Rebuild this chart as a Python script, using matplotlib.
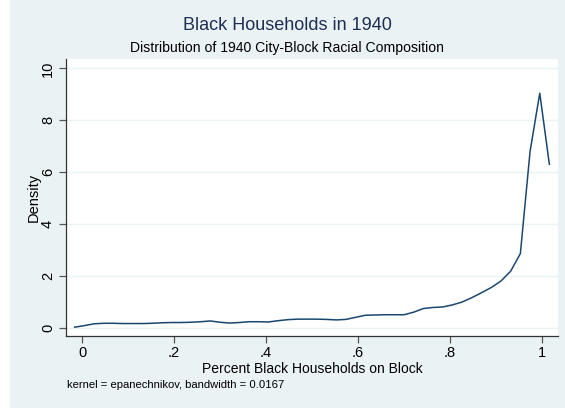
import matplotlib
matplotlib.use("Agg")
import matplotlib.pyplot as plt
from matplotlib.patches import Rectangle

plt.rcParams['font.family'] = ['Liberation Sans', 'DejaVu Sans']

# Kernel density estimate evaluated on 50 grid points
share_black = [
    -0.0167, 0.0044, 0.0255, 0.0466, 0.0677, 0.0888, 0.1098, 0.1309, 0.1520, 0.1731,
    0.1942, 0.2153, 0.2364, 0.2575, 0.2786, 0.2997, 0.3208, 0.3419, 0.3630, 0.3841,
    0.4052, 0.4262, 0.4473, 0.4684, 0.4895, 0.5106, 0.5317, 0.5528, 0.5739, 0.5950,
    0.6161, 0.6372, 0.6583, 0.6794, 0.7005, 0.7216, 0.7426, 0.7637, 0.7848, 0.8059,
    0.8270, 0.8481, 0.8692, 0.8903, 0.9114, 0.9325, 0.9536, 0.9747, 0.9958, 1.0167,
]
density = [
    0.02, 0.08, 0.15, 0.17, 0.17, 0.16, 0.16, 0.16, 0.17, 0.19,
    0.20, 0.20, 0.21, 0.23, 0.26, 0.21, 0.18, 0.20, 0.23, 0.23,
    0.22, 0.27, 0.31, 0.33, 0.33, 0.33, 0.32, 0.30, 0.32, 0.40,
    0.48, 0.49, 0.50, 0.50, 0.50, 0.60, 0.74, 0.78, 0.80, 0.88,
    0.99, 1.16, 1.35, 1.55, 1.80, 2.18, 2.86, 6.80, 9.04, 6.30,
]

x_ticks = [0, 0.2, 0.4, 0.6, 0.8, 1.0]
x_tick_labels = ["0", ".2", ".4", ".6", ".8", "1"]
y_ticks = [0, 2, 4, 6, 8, 10]
y_tick_labels = ["0", "2", "4", "6", "8", "10"]

W, H = 565, 411
fig = plt.figure(figsize=(W / 100, H / 100), dpi=100, facecolor="white")

# Graph region background
fig.patches.append(Rectangle((10 / W, 3 / H), 555 / W, 408 / H,
                             transform=fig.transFigure, facecolor="#EAF2F3",
                             edgecolor="none", zorder=-5))

ax = fig.add_axes([66 / W, 1 - 336 / H, (558 - 66) / W, (336 - 59.5) / H])
ax.set_zorder(2)
ax.set_facecolor("white")
ax.plot(share_black, density, color="#1A476F", lw=1.1, zorder=3)

ax.set_xlim(-0.0355, 1.0355)
ax.set_ylim(-0.32, 10.34)
ax.set_xticks(x_ticks)
ax.set_xticklabels(x_tick_labels)
ax.set_yticks(y_ticks)
ax.set_yticklabels(y_tick_labels, rotation=90, va="center")

for v in y_ticks:
    ax.axhline(v, color="#EAF2F3", lw=1.0, zorder=1)

for s in ["top", "right"]:
    ax.spines[s].set_visible(False)
for s in ["left", "bottom"]:
    ax.spines[s].set_color("#333333")
    ax.spines[s].set_linewidth(0.9)

ax.tick_params(axis="both", direction="out", length=5, width=0.9,
               color="#555555", labelsize=10.5, labelcolor="black")
ax.tick_params(axis="y", pad=3)
ax.tick_params(axis="x", pad=2.5)

ax.set_xlabel("Percent Black Households on Block", fontsize=10, labelpad=1)
ax.set_ylabel("Density", fontsize=10.5, labelpad=0)

fig.text(287.5 / W, 1 - 26 / H, "Black Households in 1940", ha="center",
         va="center", fontsize=13, color="#1E2D53")
fig.text(287.5 / W, 1 - 48 / H, "Distribution of 1940 City-Block Racial Composition",
         ha="center", va="center", fontsize=10.1, color="black")
fig.text(67 / W, 1 - 385 / H, "kernel = epanechnikov, bandwidth = 0.0167",
         ha="left", va="center", fontsize=8.1, color="black")

fig.savefig("out.png", dpi=100, facecolor="white")
